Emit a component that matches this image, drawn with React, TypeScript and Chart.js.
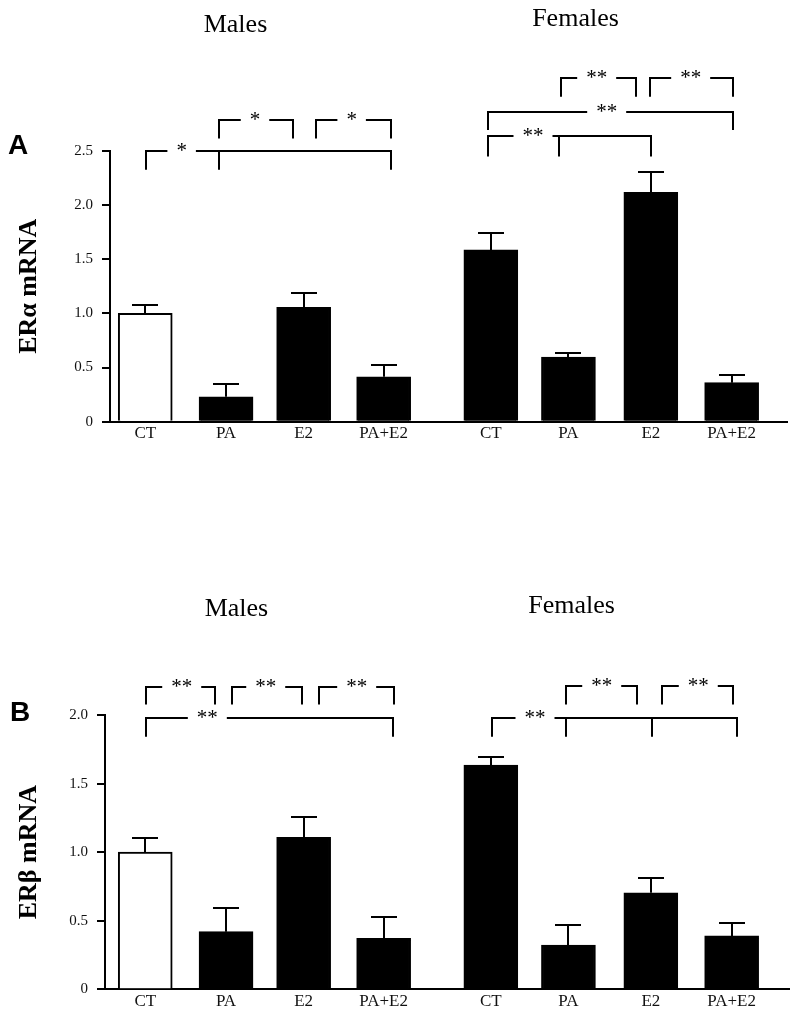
import React, { useEffect, useRef } from 'react';
import { Chart, registerables } from 'chart.js';

Chart.register(...registerables);

// ---------------- data ----------------
const groups = ['Males', 'Females'];
const treatments = ['CT', 'PA', 'E2', 'PA+E2'];
const categories = [...treatments, ...treatments];

// ERα mRNA (panel A)
const eraMales = [1.0, 0.23, 1.055, 0.415];
const eraMalesSem = [0.08, 0.12, 0.135, 0.105];
const eraFemales = [1.585, 0.595, 2.115, 0.36];
const eraFemalesSem = [0.155, 0.037, 0.185, 0.07];

// ERβ mRNA (panel B)
const erbMales = [1.0, 0.42, 1.108, 0.372];
const erbMalesSem = [0.1, 0.17, 0.146, 0.157];
const erbFemales = [1.635, 0.323, 0.704, 0.389];
const erbFemalesSem = [0.06, 0.146, 0.105, 0.092];

const yTicksA = [0, 0.5, 1.0, 1.5, 2.0, 2.5];
const yTicksB = [0, 0.5, 1.0, 1.5, 2.0];

// significance brackets (x in bar-slot units, y in value units)
type Bracket = { x1: number; x2: number; y: number; drop: number; label: string; lx: number; ticks?: number[] };

const sigA: Bracket[] = [
  { x1: 0.01, x2: 3.07, y: 2.5, drop: 0.175, label: '*', lx: 0.455, ticks: [0.926] },
  { x1: 0.926, x2: 1.85, y: 2.783, drop: 0.17, label: '*', lx: 1.372 },
  { x1: 2.13, x2: 3.07, y: 2.783, drop: 0.17, label: '*', lx: 2.58 },
  { x1: 5.197, x2: 6.131, y: 3.168, drop: 0.17, label: '**', lx: 5.643 },
  { x1: 6.309, x2: 7.351, y: 3.168, drop: 0.17, label: '**', lx: 6.818 },
  { x1: 4.288, x2: 7.343, y: 2.86, drop: 0.17, label: '**', lx: 5.768 },
  { x1: 4.288, x2: 6.318, y: 2.636, drop: 0.19, label: '**', lx: 4.847, ticks: [5.176] },
];

const sigB: Bracket[] = [
  { x1: 0.006, x2: 0.872, y: 2.206, drop: 0.129, label: '**', lx: 0.456 },
  { x1: 1.081, x2: 1.956, y: 2.206, drop: 0.129, label: '**', lx: 1.506 },
  { x1: 2.176, x2: 3.113, y: 2.206, drop: 0.129, label: '**', lx: 2.643 },
  { x1: 0.006, x2: 3.1, y: 1.98, drop: 0.139, label: '**', lx: 0.776 },
  { x1: 5.259, x2: 6.151, y: 2.213, drop: 0.136, label: '**', lx: 5.706 },
  { x1: 6.463, x2: 7.351, y: 2.213, drop: 0.136, label: '**', lx: 6.913 },
  { x1: 4.331, x2: 7.4, y: 1.98, drop: 0.139, label: '**', lx: 4.872, ticks: [5.259, 6.338] },
];

// ---------------- layout ----------------
const slots = [0, 1.01, 1.98, 2.98, 4.32, 5.29, 6.32, 7.33];
const fills = ['#ffffff', '#000000', '#000000', '#000000', '#000000', '#000000', '#000000', '#000000'];
const SERIF = '"Liberation Serif", "Times New Roman", serif';

interface Panel {
  id: string;
  letter: string;
  yTitle: string;
  values: number[];
  sem: number[];
  yTicks: number[];
  yMax: number;
  sig: Bracket[];
  xMin: number;
  xMax: number;
  padTop: number;
  padBottom: number;
  padRight: number;
  axisW: number;
  groupPos: { x: number; y: number }[];
  letterPos: { x: number; y: number };
}

const panelA: Panel = {
  id: 'A',
  letter: 'A',
  yTitle: 'ERα mRNA',
  values: [...eraMales, ...eraFemales],
  sem: [...eraMalesSem, ...eraFemalesSem],
  yTicks: yTicksA,
  yMax: 2.5,
  sig: sigA,
  xMin: -0.4406,
  xMax: 8.022,
  padTop: 150.7,
  padBottom: 36.3,
  padRight: 13,
  axisW: 110,
  groupPos: [{ x: 1.128, y: 31.7 }, { x: 5.378, y: 26 }],
  letterPos: { x: 8, y: 154 },
};

const panelB: Panel = {
  id: 'B',
  letter: 'B',
  yTitle: 'ERβ mRNA',
  values: [...erbMales, ...erbFemales],
  sem: [...erbMalesSem, ...erbFemalesSem],
  yTicks: yTicksB,
  yMax: 2.0,
  sig: sigB,
  xMin: -0.503,
  xMax: 8.047,
  padTop: 235,
  padBottom: 2.7,
  padRight: 11,
  axisW: 105,
  groupPos: [{ x: 1.14, y: 136 }, { x: 5.33, y: 133 }],
  letterPos: { x: 10, y: 241 },
};

function makeChart(canvas: HTMLCanvasElement, p: Panel) {
  const annot = {
    id: 'annot' + p.id,
    afterDatasetsDraw(chart: any) {
      const { ctx } = chart;
      const x = chart.scales.x;
      const y = chart.scales.y;
      ctx.save();
      ctx.strokeStyle = '#000';
      ctx.lineWidth = 2;
      p.values.forEach((v, i) => {
        const px = Math.round(x.getPixelForValue(slots[i]));
        const y0 = y.getPixelForValue(v);
        const y1 = Math.round(y.getPixelForValue(v + p.sem[i]));
        ctx.beginPath();
        ctx.moveTo(px, y0);
        ctx.lineTo(px, y1);
        ctx.moveTo(px - 13, y1);
        ctx.lineTo(px + 13, y1);
        ctx.stroke();
      });
      ctx.restore();
    },
    afterDraw(chart: any) {
      const { ctx } = chart;
      const x = chart.scales.x;
      const y = chart.scales.y;
      ctx.save();
      ctx.strokeStyle = '#000';
      ctx.fillStyle = '#000';
      ctx.lineWidth = 2;
      ctx.lineJoin = 'miter';
      ctx.font = `21px ${SERIF}`;
      ctx.textAlign = 'center';
      ctx.textBaseline = 'alphabetic';
      p.sig.forEach((b) => {
        const X1 = Math.round(x.getPixelForValue(b.x1));
        const X2 = Math.round(x.getPixelForValue(b.x2));
        const LX = x.getPixelForValue(b.lx);
        const Y = Math.round(y.getPixelForValue(b.y));
        const YD = y.getPixelForValue(b.y - b.drop);
        const half = ctx.measureText(b.label).width / 2 + 9;
        ctx.beginPath();
        ctx.moveTo(X1, YD);
        ctx.lineTo(X1, Y);
        ctx.lineTo(LX - half, Y);
        ctx.moveTo(LX + half, Y);
        ctx.lineTo(X2, Y);
        ctx.lineTo(X2, YD);
        (b.ticks || []).forEach((t) => {
          const T = Math.round(x.getPixelForValue(t));
          ctx.moveTo(T, Y);
          ctx.lineTo(T, YD);
        });
        ctx.stroke();
        ctx.fillText(b.label, LX, Y + 6);
      });
      ctx.font = `26px ${SERIF}`;
      groups.forEach((g, i) => {
        ctx.fillText(g, x.getPixelForValue(p.groupPos[i].x), p.groupPos[i].y);
      });
      ctx.font = 'bold 28px "Liberation Sans", Arial, sans-serif';
      ctx.textAlign = 'left';
      ctx.fillText(p.letter, p.letterPos.x, p.letterPos.y);
      ctx.restore();
    },
  };

  return new Chart(canvas, {
    type: 'bar',
    data: {
      datasets: [
        {
          data: p.values.map((v, i) => ({ x: slots[i], y: v })),
          backgroundColor: fills,
          borderColor: '#000',
          borderWidth: 2,
          barThickness: 54,
        } as any,
      ],
    },
    options: {
      animation: false,
      responsive: false,
      devicePixelRatio: 1,
      layout: { padding: { top: p.padTop, bottom: p.padBottom, left: 0, right: p.padRight } },
      plugins: { legend: { display: false }, tooltip: { enabled: false }, title: { display: false } },
      scales: {
        x: {
          type: 'linear',
          offset: false,
          min: p.xMin,
          max: p.xMax,
          afterBuildTicks: (s: any) => {
            s.ticks = slots.map((v) => ({ value: v }));
          },
          afterFit: (s: any) => {
            s.height = 22;
          },
          ticks: {
            autoSkip: false,
            maxRotation: 0,
            minRotation: 0,
            padding: 2,
            color: '#111',
            font: { family: SERIF, size: 17 },
            callback: (_v: any, i: number) => categories[i],
          },
          grid: { display: false, drawTicks: false, offset: false },
          border: { display: true, color: '#000', width: 2 },
        },
        y: {
          type: 'linear',
          min: 0,
          max: p.yMax,
          afterBuildTicks: (s: any) => {
            s.ticks = p.yTicks.map((v) => ({ value: v }));
          },
          afterFit: (s: any) => {
            s.width = p.axisW;
          },
          ticks: {
            padding: 9,
            color: '#111',
            font: { family: SERIF, size: 15 },
            callback: (v: any) => (Number(v) === 0 ? '0' : Number(v).toFixed(1)),
          },
          grid: { display: true, drawOnChartArea: false, drawTicks: true, tickLength: 8, color: '#000', lineWidth: 2 },
          border: { display: true, color: '#000', width: 2 },
          title: {
            display: true,
            text: p.yTitle,
            color: '#000',
            font: { family: SERIF, size: 26, weight: 'bold' },
            padding: { top: 14, bottom: 0 },
          },
        },
      },
    } as any,
    plugins: [annot],
  });
}

export default function App() {
  const refA = useRef<HTMLCanvasElement>(null);
  const refB = useRef<HTMLCanvasElement>(null);

  useEffect(() => {
    const a = refA.current ? makeChart(refA.current, panelA) : null;
    const b = refB.current ? makeChart(refB.current, panelB) : null;
    return () => {
      a?.destroy();
      b?.destroy();
    };
  }, []);

  return (
    <div style={{ position: 'absolute', left: 0, top: 0, width: 800, height: 1014, background: '#fff' }}>
      <canvas
        ref={refA}
        width={800}
        height={480}
        style={{ position: 'absolute', left: 0, top: 0, width: '800px', height: '480px' }}
      />
      <canvas
        ref={refB}
        width={800}
        height={534}
        style={{ position: 'absolute', left: 0, top: 480, width: '800px', height: '534px' }}
      />
    </div>
  );
}
